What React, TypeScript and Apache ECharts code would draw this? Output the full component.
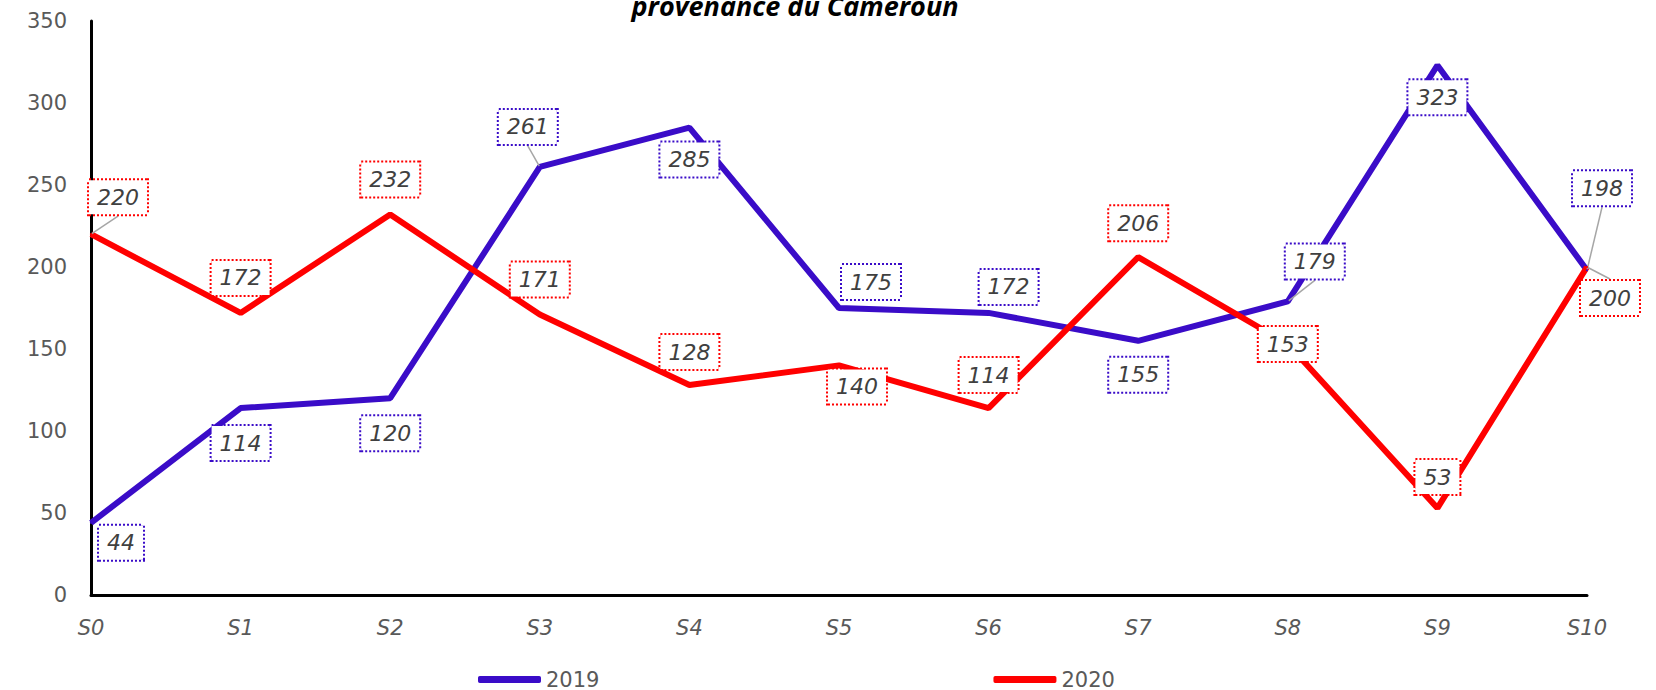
import React, { useEffect, useRef } from "react";
import * as echarts from "echarts";

const categories = ["S0", "S1", "S2", "S3", "S4", "S5", "S6", "S7", "S8", "S9", "S10"];
const values2019 = [44, 114, 120, 261, 285, 175, 172, 155, 179, 323, 198];
const values2020 = [220, 172, 232, 171, 128, 140, 114, 206, 153, 53, 200];
const yTicks = [0, 50, 100, 150, 200, 250, 300, 350];
const titleText = "provenance du Cameroun";

// label displacement (px) relative to each point
const offsets2019 = [[30, 20], [0, 35], [0, 35], [-12, -40], [0, 32], [32, -26], [20, -26], [0, 34], [27, -40], [0, 32], [15, -82]];
const offsets2020 = [[27, -37], [0, -35], [0, -35], [0, -35], [0, -33], [18, 21], [0, -33], [0, -34], [0, 0], [0, -31], [23, 31]];
const leader2019 = [false, false, false, true, false, false, false, false, true, false, true];
const leader2020 = [true, false, false, false, false, false, false, false, false, false, true];

const BLUE = "#3A0CC8";
const RED = "#FF0000";

function makeSeries(name: string, vals: number[], color: string, leaders: boolean[], offs: number[][]) {
  return {
    name,
    type: "line",
    data: vals.map((v, i) => ({
      value: v,
      labelLine: { show: leaders[i], lineStyle: { color: "#A6A6A6", width: 1.5 } },
    })),
    symbol: "circle",
    symbolSize: 2,
    showSymbol: true,
    itemStyle: { color },
    lineStyle: { color, width: 6 },
    z: 2,
    label: {
      show: true,
      position: "inside",
      fontFamily: "DejaVu Sans",
      fontStyle: "italic",
      fontSize: 22,
      color: "#404040",
      backgroundColor: "#FFFFFF",
      borderColor: color,
      borderWidth: 2,
      borderType: [2, 2],
      padding: [6, 8, 6, 8],
    },
    labelLine: { show: false, lineStyle: { color: "#A6A6A6", width: 1.5 } },
    labelLayout: (p: any) => ({ dx: offs[p.dataIndex][0], dy: offs[p.dataIndex][1] }),
  };
}

export default function App() {
  const ref = useRef<HTMLDivElement>(null);
  useEffect(() => {
    if (!ref.current) return;
    const chart = echarts.init(ref.current, null, { renderer: "svg" });
    chart.setOption({
      animation: false,
      backgroundColor: "#FFFFFF",
      grid: { left: 91, right: 69, top: 21, bottom: 95, containLabel: false },
      graphic: [
        {
          type: "text",
          x: 795,
          y: 5,
          style: {
            text: titleText,
            font: "italic bold 27px 'Open Sans'",
            fill: "#000000",
            align: "center",
            verticalAlign: "middle",
          },
        },
      ],
      legend: {
        left: 473,
        top: 664,
        itemWidth: 63,
        itemHeight: 7,
        itemGap: 394,
        icon: "roundRect",
        textStyle: { fontFamily: "DejaVu Sans", fontSize: 21, color: "#595959" },
        data: ["2019", "2020"],
      },
      xAxis: {
        type: "category",
        data: categories,
        boundaryGap: false,
        axisLine: { lineStyle: { color: "#000000", width: 3 } },
        axisTick: { show: false },
        axisLabel: {
          fontFamily: "DejaVu Sans",
          fontStyle: "italic",
          fontSize: 21,
          color: "#595959",
          margin: 22,
        },
      },
      yAxis: {
        type: "value",
        min: yTicks[0],
        max: yTicks[yTicks.length - 1],
        interval: 50,
        axisLine: { show: true, lineStyle: { color: "#000000", width: 3 } },
        axisTick: { show: false },
        splitLine: { show: false },
        axisLabel: { fontFamily: "DejaVu Sans", fontSize: 21, color: "#595959", margin: 24 },
      },
      series: [
        makeSeries("2019", values2019, BLUE, leader2019, offsets2019),
        makeSeries("2020", values2020, RED, leader2020, offsets2020),
      ],
    });
    return () => chart.dispose();
  }, []);
  return <div ref={ref} style={{ width: 1656, height: 690, position: "absolute", left: 0, top: 0 }} />;
}
